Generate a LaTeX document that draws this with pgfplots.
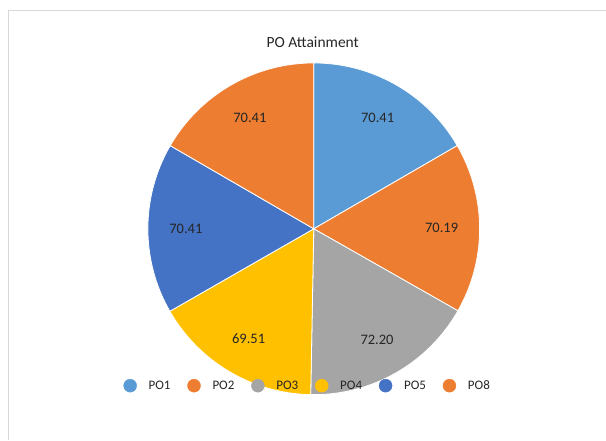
\documentclass[border=0pt]{standalone}
\usepackage{pgfplots}
\pgfplotsset{compat=1.18}
\usepackage{pgfplotstable}
\usepackage{fontspec}
\setmainfont{Carlito}
\definecolor{cPOa}{HTML}{5B9BD5}
\definecolor{cPOb}{HTML}{ED7D31}
\definecolor{cPOc}{HTML}{A5A5A5}
\definecolor{cPOd}{HTML}{FFC000}
\definecolor{cPOe}{HTML}{4472C4}
\definecolor{cPOf}{HTML}{ED7D31}
\definecolor{frame}{HTML}{D9D9D9}
\definecolor{txt}{HTML}{262626}

\pgfplotstableread{
name value col
PO1 70.41 cPOa
PO2 70.19 cPOb
PO3 72.20 cPOc
PO4 69.51 cPOd
PO5 70.41 cPOe
PO8 70.41 cPOf
}\podata

\begin{document}
\begin{tikzpicture}
% compute pie slices from the table
\pgfmathsetmacro\total{0}
\pgfplotsforeachungrouped \i in {0,...,5}{%
  \pgfplotstablegetelem{\i}{value}\of\podata
  \pgfmathsetmacro\total{\total+\pgfplotsretval}%
}
\def\piecmds{}
\def\cur{90}
\pgfplotsforeachungrouped \i in {0,...,5}{%
  \pgfplotstablegetelem{\i}{value}\of\podata \let\vv\pgfplotsretval
  \pgfplotstablegetelem{\i}{col}\of\podata \let\cc\pgfplotsretval
  \pgfmathsetmacro\fr{\vv/\total}%
  \pgfmathsetmacro\nxt{\cur-360*\fr}%
  \pgfmathsetmacro\midang{(\cur+\nxt)/2}%
  \pgfmathsetmacro\lx{314+128*cos(\midang)}%
  \pgfmathsetmacro\ly{211+128*sin(\midang)}%
  \edef\piecmds{\unexpanded\expandafter{\piecmds}%
    \noexpand\fill[fill=\cc, draw=white, line width=0.8pt, line join=round]
      (axis cs:314,211) -- ++(\cur:166pt) arc[start angle=\cur, end angle=\nxt, radius=166pt] -- cycle;
    \noexpand\node[font=\noexpand\fontsize{14.5}{17}\noexpand\selectfont, text=txt] at (axis cs:\lx,\ly)
      {\noexpand\pgfmathprintnumber[fixed, fixed zerofill, precision=2, assume math mode=true]{\vv}};
  }%
  \let\cur\nxt
}
\begin{axis}[
  scale only axis, width=606pt, height=440pt,
  xmin=0, xmax=606, ymin=0, ymax=440,
  hide axis, clip=false,
  legend columns=6,
  legend cell align=left,
  legend style={draw=none, fill=none, at={(axis cs:308,54)}, anchor=center,
    font=\fontsize{13}{15}\selectfont, text=txt,
    /tikz/every even column/.append style={column sep=15pt},
    /tikz/every odd column/.append style={column sep=10pt}},
]
\path (axis cs:0,0) rectangle (axis cs:606,440);
\draw[frame, line width=1pt] (axis cs:8.5,0) -- (axis cs:8.5,429.5) -- (axis cs:606,429.5);
\node[font=\fontsize{15.5}{18}\selectfont, text=txt] at (axis cs:313,398) {PO Attainment};
\piecmds
\addlegendimage{only marks, mark=*, mark size=6.5pt, draw=cPOa, fill=cPOa}\addlegendentry{PO1}
\addlegendimage{only marks, mark=*, mark size=6.5pt, draw=cPOb, fill=cPOb}\addlegendentry{PO2}
\addlegendimage{only marks, mark=*, mark size=6.5pt, draw=cPOc, fill=cPOc}\addlegendentry{PO3}
\addlegendimage{only marks, mark=*, mark size=6.5pt, draw=cPOd, fill=cPOd}\addlegendentry{PO4}
\addlegendimage{only marks, mark=*, mark size=6.5pt, draw=cPOe, fill=cPOe}\addlegendentry{PO5}
\addlegendimage{only marks, mark=*, mark size=6.5pt, draw=cPOf, fill=cPOf}\addlegendentry{PO8}
\end{axis}
\end{tikzpicture}
\end{document}
